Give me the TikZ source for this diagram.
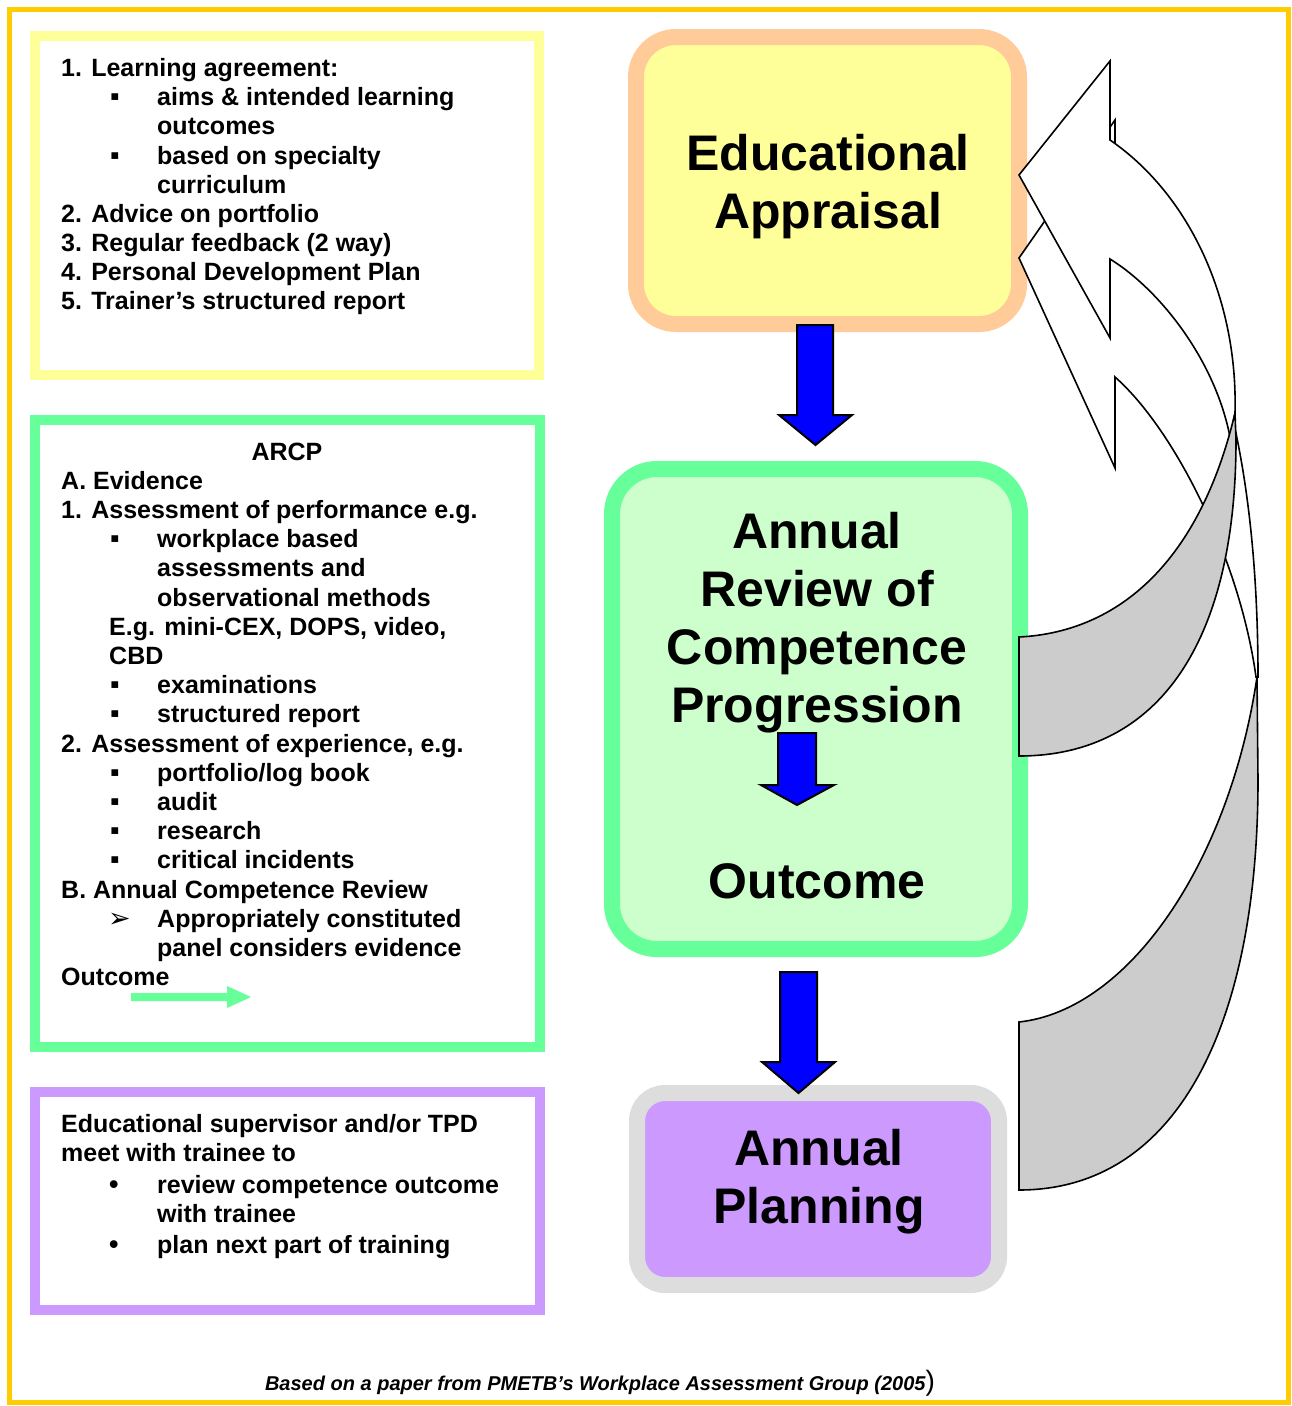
\documentclass[tikz,border=0pt]{standalone}
\usepackage{fontspec}
\setmainfont{Liberation Sans}
\newfontfamily\djv{DejaVu Sans}
\definecolor{framegold}{HTML}{FFCC00}
\definecolor{lyellow}{HTML}{FFFF99}
\definecolor{peach}{HTML}{FFCC99}
\definecolor{mgreen}{HTML}{66FF99}
\definecolor{lgreen}{HTML}{CCFFCC}
\definecolor{lpurple}{HTML}{CC99FF}
\definecolor{lgrey}{HTML}{DDDDDD}
\definecolor{arrowgrey}{HTML}{CCCCCC}
\definecolor{arrowblue}{HTML}{0000FF}
\begin{document}
\begin{tikzpicture}[x=1pt,y=-1pt,
  lt/.style={anchor=base west, inner sep=0pt, font=\fontsize{25}{29}\selectfont\bfseries},
  bul/.style={anchor=base west, inner sep=0pt, font=\fontsize{27}{29}\selectfont\bfseries},
  bt/.style={anchor=base, inner sep=0pt, font=\fontsize{50}{58}\selectfont\bfseries},
  leftbox/.style={draw=#1, fill=white, line width=10pt, inner sep=0pt},
  bigbox/.style={inner sep=0pt, line width=16pt},
  blockarrow/.style={fill=arrowblue, draw=black, line width=2pt, line join=miter},
  band/.style={draw=black, line width=1.6pt, line join=miter}]
\useasboundingbox (0,0) rectangle (1291,1406);
\fill[white] (0,0) rectangle (1291,1406);
% outer frame
\draw[draw=framegold, line width=5pt] (9.5,9.5) rectangle (1288.5,1402.5);

% left boxes
\node[leftbox=lyellow, minimum width=504pt, minimum height=339pt] (ybox) at (287,205.5) {};
\node[leftbox=mgreen, minimum width=505pt, minimum height=627pt] (gbox) at (287.5,733.5) {};
\node[leftbox=lpurple, minimum width=505pt, minimum height=218pt] (pbox) at (287.5,1201) {};

% big boxes
\node[bigbox, draw=peach, fill=lyellow, rounded corners=40pt, minimum width=383pt, minimum height=287pt] (eabox) at (827.5,180.5) {};
\node[bigbox, draw=mgreen, fill=lgreen, rounded corners=45pt, minimum width=408pt, minimum height=480pt] (arbox) at (816,709) {};
\node[bigbox, draw=lgrey, fill=lpurple, rounded corners=28pt, minimum width=362pt, minimum height=192pt] (apbox) at (818,1189) {};

% blue arrows
\draw[blockarrow] (797,325) -- (833,325) -- (833,415) -- (852,415) -- (815.5,445) -- (779,415) -- (797,415) -- cycle;
\draw[blockarrow] (778,733) -- (816,733) -- (816,785) -- (834,785) -- (797,805) -- (761,785) -- (778,785) -- cycle;
\draw[blockarrow] (780,972) -- (817,972) -- (817,1062) -- (835,1062) -- (798.5,1093) -- (762,1062) -- (780,1062) -- cycle;

% green small arrow
\fill[mgreen] (131,993) -- (227,993) -- (227,986) -- (251,997) -- (227,1008) -- (227,1001) -- (131,1001) -- cycle;

% curved arrow B (lower)
\filldraw[band, fill=white] (1019,258) -- (1115,120) -- (1115,209) .. controls (1200,260) and (1258,420) .. (1258,677) -- (1256,677) .. controls (1240,560) and (1175,430) .. (1115,377) -- (1115,468) -- cycle;
\filldraw[band, fill=arrowgrey] (1257,677) -- (1258,780) .. controls (1258,1020) and (1180,1190) .. (1019,1190) -- (1019,1022) .. controls (1130,1010) and (1230,860) .. (1257,677) -- cycle;
% curved arrow A (upper)
\filldraw[band, fill=white] (1019,175) -- (1110,61) -- (1110,140) .. controls (1190,195) and (1238,300) .. (1235,413) -- (1230,437) .. controls (1215,360) and (1160,290) .. (1110,259) -- (1110,338) -- cycle;
\filldraw[band, fill=arrowgrey] (1235,413) -- (1236,440) .. controls (1236,640) and (1160,756) .. (1019,756) -- (1019,637) .. controls (1120,632) and (1200,560) .. (1235,413) -- cycle;

% big texts
\node[bt] (ea1) at (828,170) {Educational};
\node[bt] (ea2) at (828,228) {Appraisal};
\node[bt] (ar1) at (817,548) {Annual};
\node[bt] (ar2) at (817,606) {Review of};
\node[bt] (ar3) at (817,664) {Competence};
\node[bt] (ar4) at (817,722) {Progression};
\node[bt] (ar5) at (817,898) {Outcome};
\node[bt] (ap1) at (819,1165) {Annual};
\node[bt] (ap2) at (819,1223) {Planning};

% yellow box text
\node[lt] (y1) at (61,76) {1. Learning agreement:};
\node[bul] (y2b) at (110,105) {▪};
\node[lt] (y2) at (157,105) {aims \& intended learning};
\node[lt] (y3) at (157,134) {outcomes};
\node[bul] (y4b) at (110,164) {▪};
\node[lt] (y4) at (157,164) {based on specialty};
\node[lt] (y5) at (157,193) {curriculum};
\node[lt] (y6) at (61,222) {2. Advice on portfolio};
\node[lt] (y7) at (61,251) {3. Regular feedback (2 way)};
\node[lt] (y8) at (61,280) {4. Personal Development Plan};
\node[lt] (y9) at (61,309) {5. Trainer’s structured report};

% green box text
\node[anchor=base, inner sep=0pt, font=\fontsize{25}{29}\selectfont\bfseries] (g0) at (287,460) {ARCP};
\node[lt] (g1) at (61,489.2) {A. Evidence};
\node[lt] (g2) at (61,518.4) {1. Assessment of performance e.g.};
\node[bul] (g3b) at (110,547.6) {▪};
\node[lt] (g3) at (157,547.6) {workplace based};
\node[lt] (g4) at (157,576.8) {assessments and};
\node[lt] (g5) at (157,606) {observational methods};
\node[lt] (g6) at (109,635.2) {E.g. mini-CEX, DOPS, video,};
\node[lt] (g7) at (109,664.4) {CBD};
\node[bul] (g8b) at (110,693.6) {▪};
\node[lt] (g8) at (157,693.6) {examinations};
\node[bul] (g9b) at (110,722.8) {▪};
\node[lt] (g9) at (157,722.8) {structured report};
\node[lt] (g10) at (61,752) {2. Assessment of experience, e.g.};
\node[bul] (g11b) at (110,781.2) {▪};
\node[lt] (g11) at (157,781.2) {portfolio/log book};
\node[bul] (g12b) at (110,810.4) {▪};
\node[lt] (g12) at (157,810.4) {audit};
\node[bul] (g13b) at (110,839.6) {▪};
\node[lt] (g13) at (157,839.6) {research};
\node[bul] (g14b) at (110,868.8) {▪};
\node[lt] (g14) at (157,868.8) {critical incidents};
\node[lt] (g15) at (61,898) {B. Annual Competence Review};
\node[anchor=base west, inner sep=0pt, font=\djv\fontsize{27}{27}\selectfont] (g16b) at (108,927) {➢};
\node[lt] (g16) at (157,927.2) {Appropriately constituted};
\node[lt] (g17) at (157,956.4) {panel considers evidence};
\node[lt] (g18) at (61,985.6) {Outcome};

% purple box text
\node[lt] (p1) at (61,1132) {Educational supervisor and/or TPD};
\node[lt] (p2) at (61,1161) {meet with trainee to};
\node[bul] (p3b) at (109,1193) {•};
\node[lt] (p3) at (157,1193) {review competence outcome};
\node[lt] (p4) at (157,1222) {with trainee};
\node[bul] (p5b) at (109,1253) {•};
\node[lt] (p5) at (157,1253) {plan next part of training};

% footer
\node[anchor=base, inner sep=0pt, font=\fontsize{20}{24}\selectfont\bfseries\itshape] (foot) at (600,1390) {Based on a paper from PMETB’s Workplace Assessment Group (2005{\fontsize{28}{28}\selectfont\mdseries\upshape)}};
\end{tikzpicture}
\end{document}
